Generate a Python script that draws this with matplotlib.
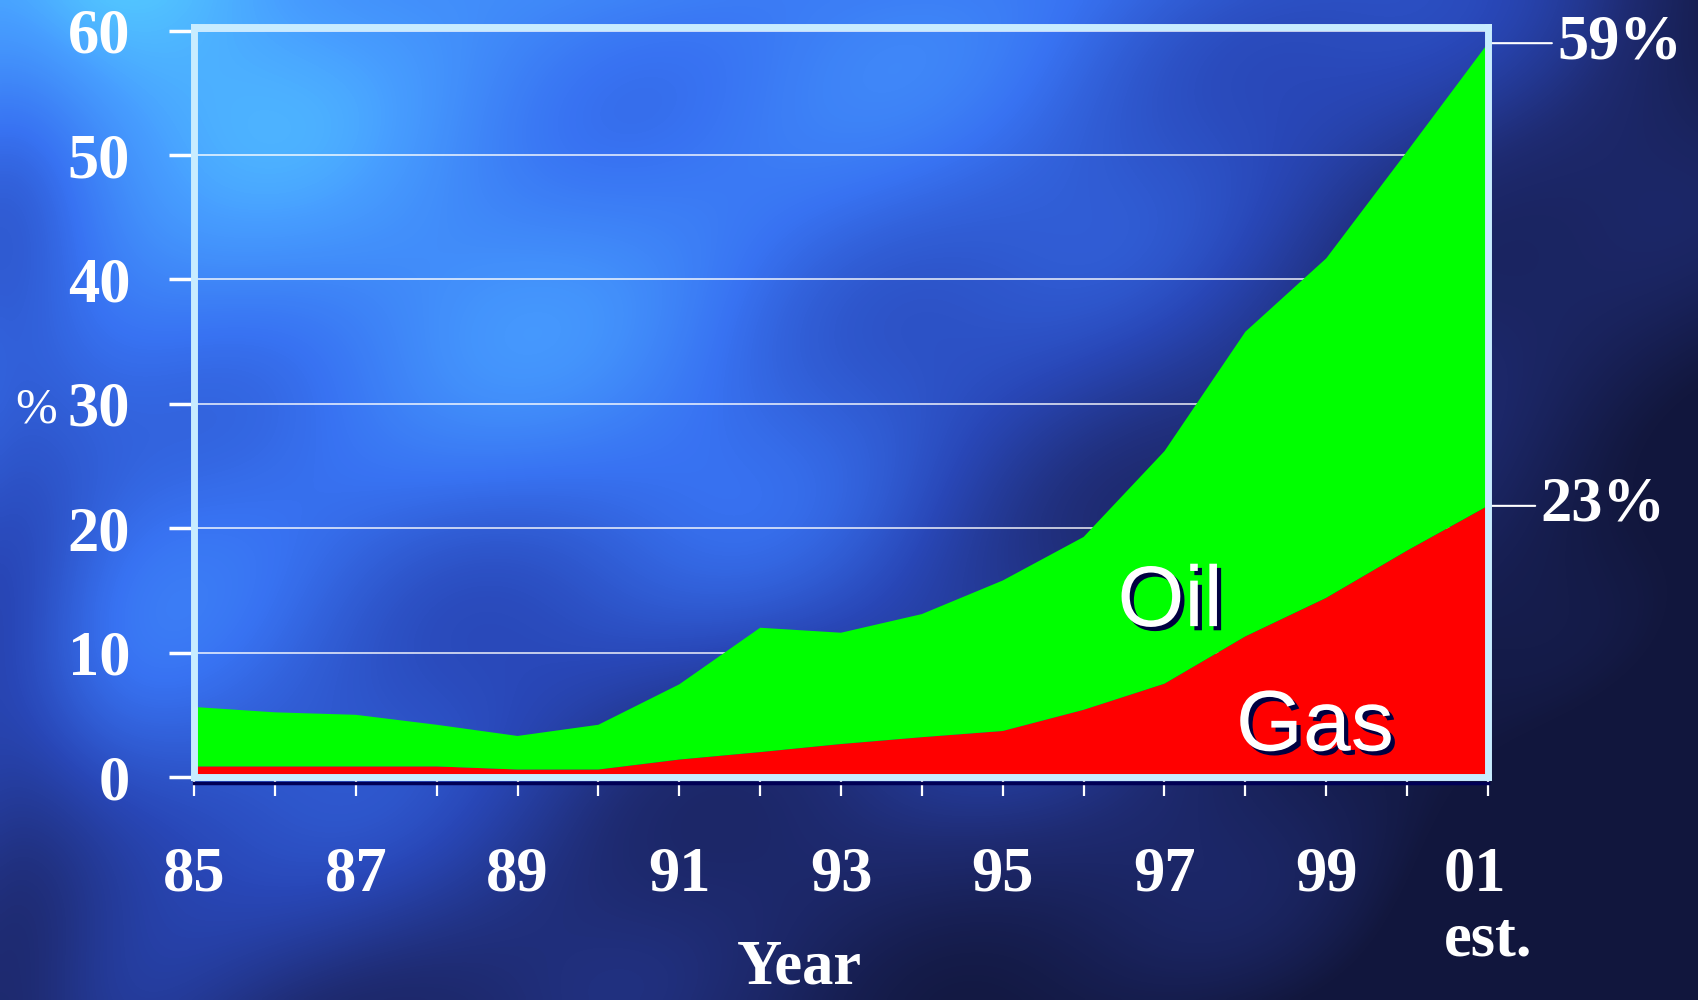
import numpy as np
import matplotlib
matplotlib.use("Agg")
import matplotlib.pyplot as plt
import matplotlib.patheffects as pe
from matplotlib.colors import LinearSegmentedColormap
from matplotlib.lines import Line2D

# data (percent)
years = list(range(1985, 2002))
gas = [0.85, 0.85, 0.85, 0.85, 0.6, 0.6, 1.4, 2.0, 2.65, 3.2, 3.7, 5.4, 7.5, 11.3, 14.4, 18.2, 21.8]
total = [5.63, 5.2, 5.0, 4.2, 3.3, 4.2, 7.45, 12.0, 11.6, 13.1, 15.8, 19.3, 26.2, 35.8, 41.7, 50.3, 59.0]
oil = [t - g for t, g in zip(total, gas)]
xtick_years = [1985, 1987, 1989, 1991, 1993, 1995, 1997, 1999, 2001]
xtick_labels = ["85", "87", "89", "91", "93", "95", "97", "99", "01\nest."]
yticks = [0, 10, 20, 30, 40, 50, 60]
end_labels = ["59%", "23%"]

plt.rcParams["font.family"] = ["Liberation Serif", "DejaVu Serif"]
plt.rcParams["font.weight"] = "bold"

fig = plt.figure(figsize=(16.99, 10), dpi=100)

# mottled blue slide background
bg = fig.add_axes([0, 0, 1, 1], zorder=-10)
v, u = np.mgrid[0:1:300j, 0:1:510j]
t = 0.93 - 0.35 * u - 0.3 * v - 0.4 * u ** 3 - 0.25 * v ** 2
t += 0.07 * np.sin(9 * u + 1.3) * np.cos(7 * v + 0.4)
t += 0.05 * np.sin(15 * u - 11 * v + 0.7)
t += 0.04 * np.cos(21 * u + 17 * v)
t -= 0.2 * np.exp(-(u / 0.06) ** 2)
t = np.clip(t, 0, 1)
cmap = LinearSegmentedColormap.from_list("slide", [
    (0.0, (0.07, 0.09, 0.24)),
    (0.25, (0.12, 0.17, 0.45)),
    (0.45, (0.16, 0.28, 0.72)),
    (0.65, (0.22, 0.45, 0.95)),
    (0.85, (0.28, 0.62, 1.0)),
    (1.0, (0.33, 0.8, 1.0)),
])
bg.imshow(t, cmap=cmap, vmin=0, vmax=1, extent=[0, 1, 0, 1],
          aspect="auto", interpolation="bicubic")
bg.axis("off")

ax = fig.add_axes([0.1142, 0.223, 0.7616, 0.750])
ax.patch.set_alpha(0)

ax.stackplot(years, gas, oil, colors=["#ff0000", "#00ff00"], zorder=2)

ax.set_xlim(1985, 2001)
ax.set_ylim(0, 60.3)
ax.set_axisbelow(True)
ax.yaxis.grid(True, color="white", lw=1.2, alpha=0.85)

for s in ax.spines.values():
    s.set_color("#c8ecff")
    s.set_linewidth(5)
    s.set_zorder(3)

ax.set_yticks(yticks)
ax.set_yticklabels([str(y) for y in yticks])
ax.set_xticks(years, minor=True)
ax.set_xticks(xtick_years)
ax.set_xticklabels(xtick_labels, multialignment="left", linespacing=1.15)
ax.tick_params(axis="y", length=18, width=2.5, color="white", pad=28,
               labelsize=45, labelcolor="white")
ax.tick_params(axis="x", which="both", length=14, width=1.6, color="white",
               pad=36, labelsize=45, labelcolor="white")

# dark shadow under the bottom frame
fig.add_artist(Line2D([0.1142, 0.8758], [0.2175, 0.2175], color="#000055", lw=2.5))

shadow = [pe.withSimplePatchShadow(offset=(3, -3), shadow_rgbFace="#000040", alpha=1)]
ax.text(1997.07, 13.9, "Oil", family="Liberation Sans", weight="normal",
        fontsize=62, color="white", ha="center", va="center",
        path_effects=shadow, zorder=4)
ax.text(1998.86, 3.9, "Gas", family="Liberation Sans", weight="normal",
        fontsize=62, color="white", ha="center", va="center",
        path_effects=shadow, zorder=4)

for val, lab, off in zip([total[-1], gas[-1]], end_labels, [50, 38]):
    ax.annotate(lab, xy=(years[-1], val), xytext=(off, 0),
                textcoords="offset points", ha="left", va="center",
                fontsize=45, color="white", annotation_clip=False,
                arrowprops=dict(arrowstyle="-", color="white", lw=1.5,
                                shrinkA=2, shrinkB=0))

fig.text(36 / 1699, 1 - 410 / 1000, "%", fontsize=36, weight="normal",
         color="white", ha="center", va="center")
fig.text(799 / 1699, 0.002, "Year", fontsize=45, color="white",
         ha="center", va="bottom")

fig.savefig("out.png", dpi=100)
